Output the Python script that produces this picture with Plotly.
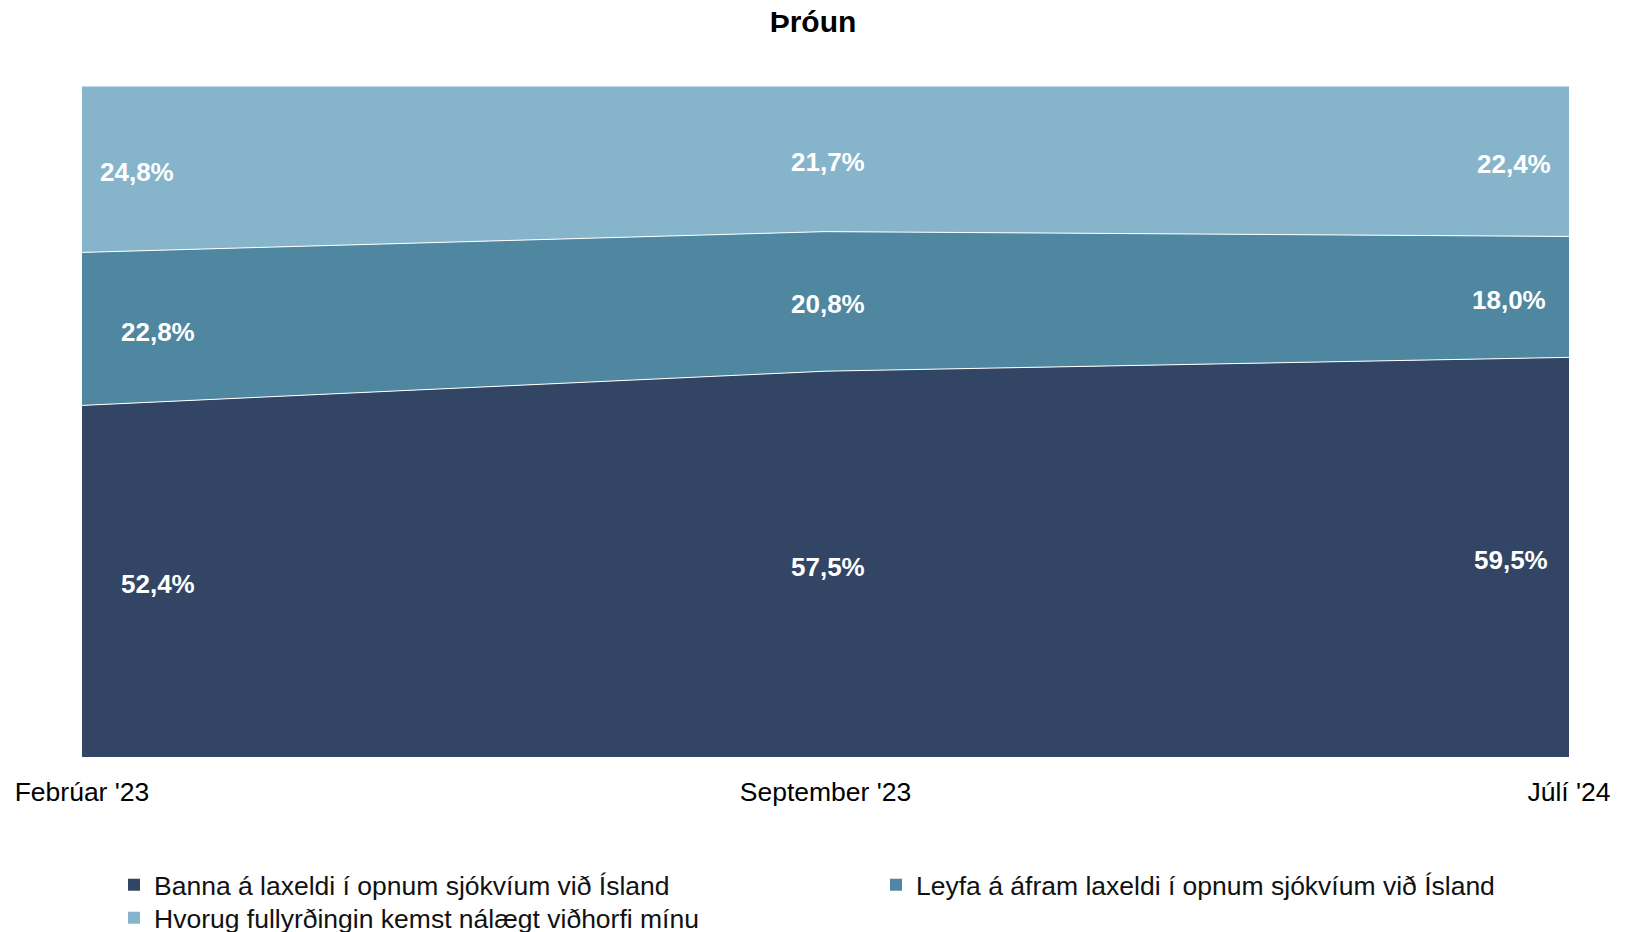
import plotly.graph_objects as go

categories = ["Febrúar '23", "September '23", "Júlí '24"]
series_names = [
    "Banna á laxeldi í opnum sjókvíum við Ísland",
    "Leyfa á áfram laxeldi í opnum sjókvíum við Ísland",
    "Hvorug fullyrðingin kemst nálægt viðhorfi mínu",
]
banna = [52.4, 57.5, 59.5]
leyfa = [22.8, 20.8, 18.0]
hvorug = [24.8, 21.7, 22.4]
values = [banna, leyfa, hvorug]
colors = ["#324565", "#4F87A0", "#86B5CB"]
# horizontal pixel offset of each label column (style only)
label_xshift = [[76, 2, -58], [76, 2, -60], [55, 2, -55]]

xs = list(range(len(categories)))
FONT = "Liberation Sans, Arial, sans-serif"
# the page body adds an 8px margin, so the figure is sized to fit inside it
W, H = 1628, 924

fig = go.Figure()
for name, vals, col in zip(series_names, values, colors):
    fig.add_trace(go.Scatter(
        x=xs, y=vals, name=name, mode="lines", stackgroup="one",
        groupnorm="percent",
        line=dict(color="white", width=1), fillcolor=col,
        showlegend=False, hoverinfo="skip"))
legend_ids = ["legend", "legend2", "legend3"]
for name, col, lg in zip(series_names, colors, legend_ids):
    fig.add_trace(go.Scatter(
        x=[None], y=[None], name=name, mode="markers", legend=lg,
        marker=dict(symbol="square", size=12, color=col), showlegend=True))

annotations = []
for i in xs:
    total = sum(v[i] for v in values)
    base = 0.0
    for s, vals in enumerate(values):
        v = vals[i] / total * 100
        mid = base + v / 2
        base += v
        annotations.append(dict(
            x=i, y=mid, xref="x", yref="y", showarrow=False,
            text=f"{vals[i]:.1f}%".replace(".", ","),
            xshift=label_xshift[s][i], yshift=-3,
            font=dict(family=FONT, size=26, color="white", weight="bold")))

def leg(xpx, ypx):
    return dict(orientation="v", xref="container", yref="container",
                x=xpx / W, xanchor="left", y=1 - ypx / H, yanchor="middle",
                font=dict(family=FONT, size=26.5, color="#111111"),
                bgcolor="rgba(0,0,0,0)", itemsizing="constant")

fig.update_layout(
    width=W, height=H,
    margin=dict(l=74, r=67, t=78, b=175, autoexpand=False),
    paper_bgcolor="white", plot_bgcolor="white",
    title=dict(text="<b>Þróun</b>", x=805 / W, xanchor="center",
               y=1 - 13.5 / H, yanchor="middle", yref="container",
               font=dict(family=FONT, size=30, color="black")),
    xaxis=dict(range=[0, 2], tickvals=xs, ticktext=categories,
               showgrid=False, zeroline=False, showline=False,
               ticks="outside", ticklen=11, tickcolor="rgba(0,0,0,0)",
               tickangle=0, automargin=False,
               tickfont=dict(family=FONT, size=26.5, color="black")),
    yaxis=dict(range=[0, 100], visible=False),
    showlegend=True,
    legend=leg(106, 877),
    legend2=leg(868, 877),
    legend3=leg(106, 910),
    annotations=annotations,
)

fig.write_html("out.html")
